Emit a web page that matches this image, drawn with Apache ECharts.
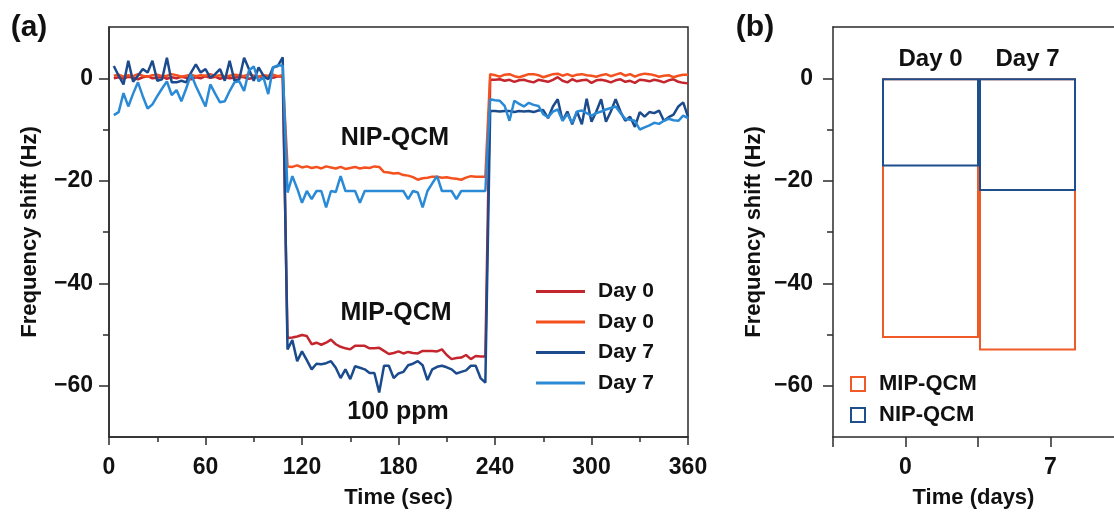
<!DOCTYPE html>
<html>
<head>
<meta charset="utf-8">
<script src="https://cdn.jsdelivr.net/npm/echarts@6/dist/echarts.min.js"></script>
<style>
  html, body { margin: 0; padding: 0; background: #fff; }
  #chart { width: 1114px; height: 516px; }
</style>
</head>
<body>
<div id="chart"></div>
<script>
// time axis of panel (a), seconds
const times = [
  3, 6, 9, 12, 15, 18, 21, 24, 27, 30, 33, 36, 39, 42, 45, 48, 51, 54, 57, 60, 63, 66, 69, 72, 75, 78, 81, 84, 87, 90, 93, 96, 99, 102, 105, 108,
  111, 114, 117, 120, 123, 126, 129, 132, 135, 138, 141, 144, 147, 150, 153, 156, 159, 162, 165, 168, 171, 174, 177, 180, 183, 186, 189, 192, 195, 198, 201, 204, 207, 210, 213, 216, 219, 222, 225, 228, 231, 234,
  237, 240, 243, 246, 249, 252, 255, 258, 261, 264, 267, 270, 273, 276, 279, 282, 285, 288, 291, 294, 297, 300, 303, 306, 309, 312, 315, 318, 321, 324, 327, 330, 333, 336, 339, 342, 345, 348, 351, 354, 357, 360
]

// frequency shift (Hz)
const mipDay0 = [
  0.0, 0.2, -0.1, 0.3, 0.1, -0.2, 0.2, 0.4, 0.0, 0.1, 0.3, -0.1, 0.2, 0.0, 0.3, 0.1, -0.2, 0.2, 0.0, 0.4, 0.1, 0.3, -0.1, 0.2, 0.0, 0.1, 0.3, 0.2, -0.1, 0.1, 0.3, 0.0, 0.2, 0.1, 0.4, 0.3,
  -50.7, -50.6, -50.4, -50.1, -50.3, -51.9, -51.6, -52.0, -51.6, -51.0, -51.9, -52.4, -52.7, -52.9, -52.2, -52.2, -52.2, -52.7, -52.7, -52.6,
  -53.2, -53.8, -53.6, -53.3, -53.7, -53.4, -53.6, -53.7, -53.2, -53.2, -53.2, -53.3, -52.9, -54.0, -54.8, -54.6, -54.5, -54.0, -54.8, -54.2, -54.3, -54.3,
  -0.3, -0.3, -0.2, -0.5, -0.3, -0.7, -0.4, -0.3, -0.6, -0.8, -0.3, -0.5, -0.7, -0.3, 0.2, -0.5, -0.8, -0.2, -0.6, -0.4,
  -0.3, -0.9, -0.4, -0.3, -0.5, -0.8, -0.4, -0.2, -0.7, -0.5, -0.9, -0.3, -0.4, -0.6, -0.3, -0.5, -0.8, -0.4, -0.2, -0.7, -0.9, -1.0
]
const nipDay0 = [
  0.5, 0.7, 0.3, 0.6, 0.4, 0.8, 0.5, 0.3, 0.6, 0.7, 0.4, 0.5, 0.8, 0.6, 0.3, 0.5, 0.7, 0.4, 0.6, 0.5, 0.8, 0.4, 0.6, 0.3, 0.5, 0.7, 0.6, 0.4, 0.8, 0.5, 0.3, 0.6, 0.5, 0.7, 0.4, 0.6,
  -17.2, -17.3, -17.0, -17.4, -17.2, -17.5, -17.3, -17.6, -17.2, -17.4, -17.6, -17.3, -17.7, -17.5, -17.3, -17.6, -17.4, -17.5, -17.2, -17.3,
  -18.3, -18.4, -18.6, -18.5, -18.9, -19.0, -19.3, -19.8, -19.5, -19.4, -19.2, -19.2, -19.4, -19.3, -19.5, -19.6, -19.8, -19.4, -19.1, -19.2, -19.2, -19.2,
  0.8, 0.6, 0.3, 0.7, 0.8, 0.4, 0.2, 0.5, 0.8, 0.8, 0.6, 0.2, 0.5, 0.8, 0.9, 0.5, 0.8, 0.4, 0.7, 0.8,
  0.6, 0.5, 0.3, 0.6, 0.8, 0.4, 0.7, 1.0, 0.5, 0.8, 0.3, 0.7, 0.9, 0.8, 0.6, 0.3, 0.5, 0.6, 0.2, 0.5, 0.7, 0.7
]
const mipDay7 = [
  2.4, 0.5, -1.2, 3.4, -0.7, 0.5, 1.8, 1.1, 3.4, -0.5, -0.2, 4.0, -0.8, -0.8, -0.5, -0.8, 1.1, 2.7, 1.1, 1.8, 0.1, 0.8, 1.8, -0.5, 3.4, -0.5, -0.2, 4.0, 1.8, -0.5, 2.1, 0.5, -0.2, 2.1, 2.4, 4.1,
  -52.9, -51.1, -55.2, -53.3, -55.0, -56.8, -55.7, -55.8, -55.6, -55.2, -56.5, -58.5, -56.8, -58.7, -56.2, -56.5, -56.8, -57.5, -57.5, -61.3,
  -56.1, -56.1, -58.5, -57.6, -57.3, -56.0, -55.7, -55.2, -56.0, -58.9, -56.8, -56.3, -56.1, -56.4, -56.8, -57.6, -57.3, -57.0, -56.1, -56.1, -58.5, -59.4,
  -6.4, -6.4, -6.5, -6.4, -6.4, -6.6, -6.4, -6.5, -6.4, -6.6, -6.3, -6.2, -7.8, -5.5, -4.1, -8.3, -6.5, -9.0, -6.5, -9.0,
  -4.0, -8.5, -6.5, -4.1, -8.5, -6.5, -4.1, -6.5, -8.3, -7.5, -9.5, -6.6, -7.5, -6.6, -6.8, -6.3, -8.3, -7.6, -7.1, -5.5, -4.7, -7.5
]
const nipDay7 = [
  -7.2, -6.6, -2.9, -5.5, -3.0, -0.8, -3.5, -5.9, -5.1, -3.5, -2.0, -0.6, -3.3, -2.3, -4.5, -2.0, 0.8, -1.5, -3.5, -5.5, -1.2, -3.0, -4.7, -4.5, -2.5, -0.8, -0.6, -2.5, 1.5, 2.3, -0.6, 0.2, -3.1, 2.1, 2.5, 2.5,
  -22.3, -19.1, -21.5, -24.3, -22.0, -23.6, -22.0, -22.0, -25.2, -22.0, -22.2, -19.1, -22.0, -22.0, -22.0, -24.3, -22.0, -22.0, -22.0, -22.0,
  -22.0, -22.0, -22.0, -22.0, -22.0, -23.6, -22.0, -22.3, -25.2, -22.0, -20.5, -19.1, -22.0, -22.0, -22.0, -23.6, -22.0, -22.0, -22.0, -22.0, -22.0, -22.0,
  -4.1, -4.3, -4.4, -5.4, -8.3, -4.4, -5.0, -5.5, -4.8, -5.2, -5.4, -7.0, -7.6, -6.5, -6.1, -8.3, -7.0, -8.7, -6.5, -6.3,
  -6.8, -7.3, -6.8, -6.5, -6.1, -5.8, -5.5, -6.8, -7.9, -8.1, -8.3, -10.0, -9.6, -9.2, -8.7, -8.9, -8.3, -7.9, -8.2, -8.3, -7.3, -7.8
]

// panel (b)
const dayCats = ['Day 0', 'Day 7']
const dayTickLabels = ['0', '7']
const mipShift = [-50.7, -53.1]
const nipShift = [-17.2, -22.0]

// y ticks
const yMajor = [-60, -40, -20, 0]
const yMinor = [-50, -30, -10]

const FONT = 'Liberation Sans'
const AXIS = '#2b2b2b'
const C_RED = '#c4262e'
const C_ORANGE = '#f4511e'
const C_DBLUE = '#1b4b8c'
const C_LBLUE = '#2a8ad6'

const bold = (size) => ({ fontFamily: FONT, fontWeight: 'bold', fontSize: size, color: '#111' })
const minus = (v) => (v < 0 ? '\u2212' + Math.abs(v) : String(v))
const axisLineStyle = { color: AXIS, width: 1.5 }

const chart = echarts.init(document.getElementById('chart'))

const lineSeries = (name, values, color) => ({
  name,
  type: 'line',
  xAxisIndex: 0,
  yAxisIndex: 0,
  data: times.map((t, i) => [t, values[i]]),
  symbol: 'none',
  showSymbol: false,
  lineStyle: { color, width: 2.5 },
  itemStyle: { color },
  emphasis: { disabled: true }
})

const yMain = (grid, margin) => ({
  gridIndex: grid,
  type: 'value',
  position: 'left',
  min: -70,
  max: 10,
  axisLine: { show: true, onZero: false, lineStyle: axisLineStyle },
  axisTick: { show: true, customValues: yMajor, length: 10, lineStyle: axisLineStyle },
  axisLabel: { customValues: yMajor, formatter: minus, margin, ...bold(23) },
  splitLine: { show: false },
  name: 'Frequency shift (Hz)',
  nameLocation: 'middle',
  nameGap: 68,
  nameTextStyle: bold(22)
})
const yMinorAxis = (grid) => ({
  gridIndex: grid,
  type: 'value',
  position: 'left',
  offset: 0,
  min: -70,
  max: 10,
  axisLine: { show: false, onZero: false },
  axisTick: { show: true, customValues: yMinor, length: 6, lineStyle: axisLineStyle },
  axisLabel: { show: false },
  splitLine: { show: false }
})

const option = {
  animation: false,
  backgroundColor: '#fff',
  grid: [
    { left: 109, top: 27, width: 579, height: 410, show: true, borderColor: AXIS, borderWidth: 1.5, outerBoundsMode: 'none' },
    { left: 833, top: 27, right: 0, height: 410, outerBoundsMode: 'none' },
    { left: 882, top: 27, width: 194, height: 410, outerBoundsMode: 'none' }
  ],
  xAxis: [
    {
      gridIndex: 0,
      type: 'value',
      min: 0,
      max: 360,
      interval: 60,
      axisLine: { onZero: false, lineStyle: axisLineStyle },
      axisTick: { length: 8, lineStyle: axisLineStyle },
      minorTick: { show: true, splitNumber: 2, length: 5, lineStyle: axisLineStyle },
      splitLine: { show: false },
      axisLabel: { margin: 19, ...bold(23) },
      name: 'Time (sec)',
      nameLocation: 'middle',
      nameGap: 50,
      nameTextStyle: bold(22)
    },
    {
      gridIndex: 1,
      type: 'value',
      min: -1,
      max: 2.876,
      interval: 1,
      axisLine: { onZero: false, lineStyle: axisLineStyle },
      axisTick: { length: 10, lineStyle: axisLineStyle },
      splitLine: { show: false },
      axisLabel: {
        margin: 19,
        showMaxLabel: false,
        formatter: (v) => (v === 0 ? dayTickLabels[0] : v === 2 ? dayTickLabels[1] : ''),
        ...bold(23)
      },
      name: 'Time (days)',
      nameLocation: 'middle',
      nameGap: 50,
      nameTextStyle: bold(22)
    },
    {
      gridIndex: 1,
      type: 'value',
      position: 'top',
      min: -1,
      max: 2.876,
      axisLine: { show: true, onZero: false, lineStyle: axisLineStyle },
      axisTick: { show: false },
      axisLabel: { show: false },
      splitLine: { show: false }
    },
    { gridIndex: 2, type: 'category', data: dayCats, show: false }
  ],
  yAxis: [
    yMain(0, 16),
    yMinorAxis(0),
    yMain(1, 20),
    yMinorAxis(1),
    { gridIndex: 2, type: 'value', min: -70, max: 10, show: false }
  ],
  legend: [
    {
      data: ['MIP Day 0', 'NIP Day 0', 'MIP Day 7', 'NIP Day 7'],
      formatter: (n) => n.slice(4),
      orient: 'vertical',
      left: 536,
      top: 281,
      padding: 0,
      icon: 'rect',
      itemWidth: 49,
      itemHeight: 3,
      itemGap: 9.5,
      selectedMode: false,
      textStyle: { ...bold(21), padding: [0, 0, 0, 8] }
    },
    {
      data: ['MIP-QCM', 'NIP-QCM'],
      orient: 'vertical',
      left: 850,
      top: 373,
      padding: 0,
      icon: 'rect',
      itemWidth: 14,
      itemHeight: 14,
      itemGap: 9,
      selectedMode: false,
      textStyle: { ...bold(22), padding: [0, 0, 0, 9] }
    }
  ],
  graphic: [
    { type: 'text', x: 29, y: 28, style: { text: '(a)', font: 'bold 30px ' + FONT, fill: '#111', align: 'center', verticalAlign: 'middle' } },
    { type: 'text', x: 755, y: 28, style: { text: '(b)', font: 'bold 30px ' + FONT, fill: '#111', align: 'center', verticalAlign: 'middle' } },
    { type: 'text', x: 395, y: 138, style: { text: 'NIP-QCM', font: 'bold 25px ' + FONT, fill: '#111', align: 'center', verticalAlign: 'middle' } },
    { type: 'text', x: 396, y: 313, style: { text: 'MIP-QCM', font: 'bold 25px ' + FONT, fill: '#111', align: 'center', verticalAlign: 'middle' } },
    { type: 'text', x: 398, y: 412, style: { text: '100 ppm', font: 'bold 25px ' + FONT, fill: '#111', align: 'center', verticalAlign: 'middle' } }
  ],
  series: [
    lineSeries('MIP Day 0', mipDay0, C_RED),
    lineSeries('NIP Day 0', nipDay0, C_ORANGE),
    lineSeries('MIP Day 7', mipDay7, C_DBLUE),
    lineSeries('NIP Day 7', nipDay7, C_LBLUE),
    {
      name: 'MIP-QCM',
      type: 'bar',
      xAxisIndex: 3,
      yAxisIndex: 4,
      data: mipShift,
      barWidth: '100%',
      barGap: '-100%',
      z: 2,
      itemStyle: { color: 'rgba(255,255,255,0)', borderColor: '#f05a28', borderWidth: 2 },
      emphasis: { disabled: true }
    },
    {
      name: 'NIP-QCM',
      type: 'bar',
      xAxisIndex: 3,
      yAxisIndex: 4,
      data: nipShift,
      barWidth: '100%',
      barGap: '-100%',
      z: 3,
      itemStyle: { color: 'rgba(255,255,255,0)', borderColor: '#1f4e8c', borderWidth: 2 },
      label: { show: true, position: 'top', distance: 7, formatter: '{b}', ...bold(24) },
      emphasis: { disabled: true }
    }
  ]
}

chart.setOption(option)
</script>
</body>
</html>
